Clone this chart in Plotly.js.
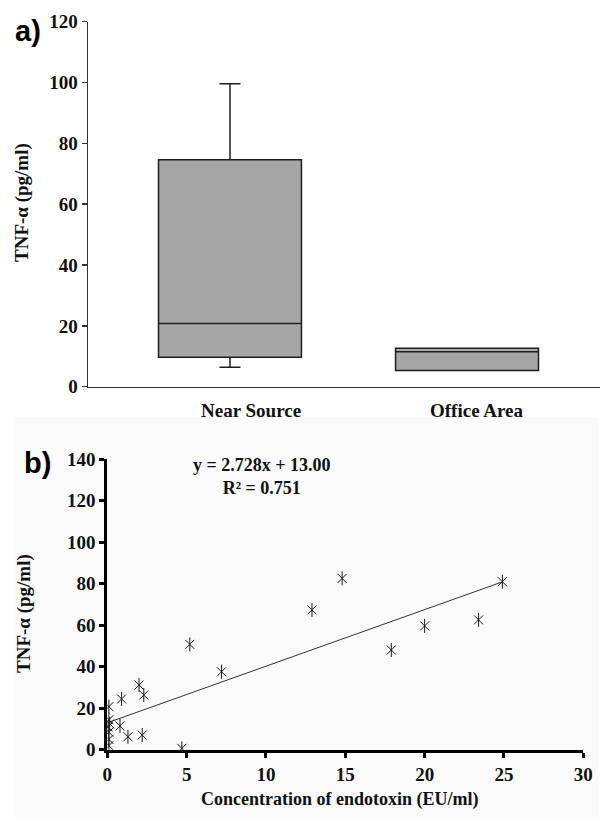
<!DOCTYPE html>
<html>
<head>
<meta charset="utf-8">
<script src="https://cdn.plot.ly/plotly-3.0.1.min.js"></script>
<style>html,body{margin:0;padding:0;background:#fff;}#chart{width:601px;height:817px;}</style>
</head>
<body>
<div id="chart"></div>
<script>
// Panel a) box plot statistics (TNF-alpha, pg/ml)
const categories = ["Near Source", "Office Area"];
const lowerFence = [6.4, 5.3];
const q1 = [9.7, 5.3];
const median = [20.8, 11.5];
const q3 = [74.6, 12.6];
const upperFence = [99.6, 12.6];

// Panel b) scatter: endotoxin (EU/ml) vs TNF-alpha (pg/ml)
const endotoxin = [0.1, 0.1, 0.15, 0.05, 0.1, 0.1, 0.1, 0.8, 1.3, 2.2, 0.9, 2.0, 2.3, 4.7, 5.2, 7.2, 12.9, 14.8, 17.9, 20.0, 23.4, 24.9];
const tnf = [20.8, 14.5, 12.5, 11.0, 8.5, 5.0, 2.0, 11.5, 6.3, 7.1, 24.5, 31.2, 26.4, 0.7, 50.8, 37.6, 67.4, 82.6, 48.1, 59.7, 62.6, 81.0];

// Linear fit reported on the chart
const slope = 2.728;
const intercept = 13.00;
const r2 = 0.751;

const W = 601, H = 817;
const px = v => v / W;
const py = v => 1 - v / H;

const serif = 'Liberation Serif, Times New Roman, serif';
const sans = 'Liberation Sans, Arial, sans-serif';

const fitX = [0, Math.max(...endotoxin)];
const fitY = fitX.map(x => slope * x + intercept);

const traces = [
  {
    type: 'box',
    x: categories,
    q1: q1, median: median, q3: q3,
    lowerfence: lowerFence, upperfence: upperFence,
    boxpoints: false,
    width: 0.603,
    whiskerwidth: 0.147,
    fillcolor: '#a6a6a6',
    line: {color: '#1e1e1e', width: 1.5},
    xaxis: 'x', yaxis: 'y',
    hoverinfo: 'skip'
  },
  {
    type: 'scatter', mode: 'lines',
    x: fitX, y: fitY,
    line: {color: '#333', width: 1},
    xaxis: 'x2', yaxis: 'y2', hoverinfo: 'skip'
  },
  {
    type: 'scatter', mode: 'markers',
    x: endotoxin, y: tnf,
    marker: {symbol: 'x-thin-open', size: 9, color: '#1a1a1a', line: {color: '#1a1a1a', width: 1}},
    xaxis: 'x2', yaxis: 'y2', hoverinfo: 'skip'
  },
  {
    type: 'scatter', mode: 'markers',
    x: endotoxin, y: tnf,
    marker: {symbol: 'line-ns-open', size: 10, color: '#1a1a1a', line: {color: '#1a1a1a', width: 1}},
    xaxis: 'x2', yaxis: 'y2', hoverinfo: 'skip'
  }
];

const tickFont = {family: serif, size: 19, color: '#111', weight: 'bold'};

const layout = {
  width: W, height: H,
  margin: {l: 0, r: 0, t: 0, b: 0},
  paper_bgcolor: '#ffffff',
  plot_bgcolor: '#ffffff',
  showlegend: false,
  xaxis: {
    domain: [px(88), px(600)],
    anchor: 'y',
    type: 'category',
    range: [-0.599, 1.561],
    showline: true, linecolor: '#333', linewidth: 1.5,
    ticks: '', showticklabels: false,
    showgrid: false, zeroline: false, fixedrange: true
  },
  yaxis: {
    domain: [py(386.7), py(21.7)],
    anchor: 'x',
    range: [0, 120], dtick: 20,
    showline: true, linecolor: '#333', linewidth: 1.5,
    ticks: 'outside', ticklen: 5, tickwidth: 1.5, tickcolor: '#333',
    tickfont: tickFont,
    showgrid: false, zeroline: false, fixedrange: true
  },
  xaxis2: {
    domain: [px(107.3), px(583.3)],
    anchor: 'y2',
    range: [0, 30], dtick: 5,
    showline: true, linecolor: '#000', linewidth: 3,
    ticks: 'outside', ticklen: 5, tickwidth: 3, tickcolor: '#000',
    tickfont: tickFont,
    showgrid: false, zeroline: false, fixedrange: true
  },
  yaxis2: {
    domain: [py(749.8), py(459.3)],
    anchor: 'x2',
    range: [0, 140], dtick: 20,
    showline: true, linecolor: '#000', linewidth: 3,
    ticks: 'outside', ticklen: 5, tickwidth: 3, tickcolor: '#000',
    tickfont: tickFont,
    showgrid: false, zeroline: false, fixedrange: true
  },
  shapes: [
    {type: 'rect', xref: 'paper', yref: 'paper', layer: 'below',
     x0: px(15), x1: px(598), y0: 0, y1: py(417),
     fillcolor: '#fafafa', line: {width: 0}}
  ],
  annotations: [
    {text: '<b>a)</b>', xref: 'paper', yref: 'paper', x: px(28), y: py(31),
     xanchor: 'center', yanchor: 'middle', showarrow: false,
     font: {family: sans, size: 29, color: '#000'}},
    {text: '<b>b)</b>', xref: 'paper', yref: 'paper', x: px(37), y: py(463),
     xanchor: 'center', yanchor: 'middle', showarrow: false,
     font: {family: sans, size: 29, color: '#000'}},
    {text: '<b>TNF-α (pg/ml)</b>', xref: 'paper', yref: 'paper', x: px(22), y: py(203),
     xanchor: 'center', yanchor: 'middle', textangle: -90, showarrow: false,
     font: {family: serif, size: 19, color: '#111'}},
    {text: '<b>TNF-α (pg/ml)</b>', xref: 'paper', yref: 'paper', x: px(24), y: py(614),
     xanchor: 'center', yanchor: 'middle', textangle: -90, showarrow: false,
     font: {family: serif, size: 19, color: '#111'}},
    {text: '<b>' + categories[0] + '</b>', xref: 'paper', yref: 'paper', x: px(251), y: py(410),
     xanchor: 'center', yanchor: 'middle', showarrow: false,
     font: {family: serif, size: 19, color: '#111'}},
    {text: '<b>' + categories[1] + '</b>', xref: 'paper', yref: 'paper', x: px(477), y: py(410),
     xanchor: 'center', yanchor: 'middle', showarrow: false,
     font: {family: serif, size: 19, color: '#111'}},
    {text: '<b>Concentration of endotoxin (EU/ml)</b>', xref: 'paper', yref: 'paper', x: px(340), y: py(799),
     xanchor: 'center', yanchor: 'middle', showarrow: false,
     font: {family: serif, size: 18, color: '#111'}},
    {text: '<b>y = ' + slope.toFixed(3) + 'x + ' + intercept.toFixed(2) + '<br>R² = ' + r2.toFixed(3) + '</b>',
     xref: 'paper', yref: 'paper', x: px(262), y: py(476),
     xanchor: 'center', yanchor: 'middle', showarrow: false,
     font: {family: serif, size: 18, color: '#111'}}
  ]
};

Plotly.newPlot('chart', traces, layout, {staticPlot: true, displayModeBar: false});
</script>
</body>
</html>
